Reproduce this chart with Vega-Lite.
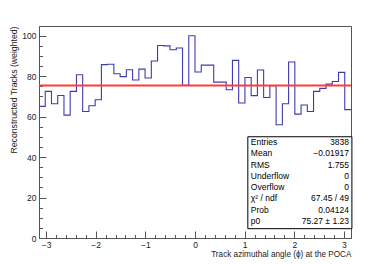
{
  "$schema": "https://vega.github.io/schema/vega-lite/v6.json",
  "width": 312,
  "height": 212,
  "autosize": "none",
  "padding": {"left": 39, "top": 26, "right": 39, "bottom": 27},
  "background": "white",
  "config": {
    "view": {"stroke": "#555555", "strokeWidth": 1},
    "font": "Liberation Sans",
    "axis": {"grid": false, "labelFont": "Liberation Sans", "titleFont": "Liberation Sans", "labelColor": "#222222", "titleColor": "#222222", "tickColor": "#555555", "domainColor": "#555555", "titleFontWeight": "normal"}
  },
  "datasets": {
    "hist": [
      {"phi": -3.1416, "tracks": 65.0},
      {"phi": -3.0159, "tracks": 72.4},
      {"phi": -2.8903, "tracks": 66.3},
      {"phi": -2.7646, "tracks": 70.4},
      {"phi": -2.6389, "tracks": 60.7},
      {"phi": -2.5133, "tracks": 72.4},
      {"phi": -2.3876, "tracks": 80.6},
      {"phi": -2.2619, "tracks": 62.5},
      {"phi": -2.1363, "tracks": 65.3},
      {"phi": -2.0106, "tracks": 68.3},
      {"phi": -1.8850, "tracks": 85.6},
      {"phi": -1.7593, "tracks": 85.8},
      {"phi": -1.6336, "tracks": 81.1},
      {"phi": -1.5080, "tracks": 79.7},
      {"phi": -1.3823, "tracks": 83.1},
      {"phi": -1.2566, "tracks": 78.0},
      {"phi": -1.1310, "tracks": 83.4},
      {"phi": -1.0053, "tracks": 79.0},
      {"phi": -0.8796, "tracks": 87.4},
      {"phi": -0.7540, "tracks": 95.1},
      {"phi": -0.6283, "tracks": 94.9},
      {"phi": -0.5027, "tracks": 93.0},
      {"phi": -0.3770, "tracks": 93.8},
      {"phi": -0.2513, "tracks": 75.4},
      {"phi": -0.1257, "tracks": 99.9},
      {"phi": 0.0000, "tracks": 82.0},
      {"phi": 0.1257, "tracks": 85.4},
      {"phi": 0.2513, "tracks": 85.4},
      {"phi": 0.3770, "tracks": 77.0},
      {"phi": 0.5027, "tracks": 77.0},
      {"phi": 0.6283, "tracks": 73.2},
      {"phi": 0.7540, "tracks": 87.7},
      {"phi": 0.8796, "tracks": 66.7},
      {"phi": 1.0053, "tracks": 79.3},
      {"phi": 1.1310, "tracks": 70.3},
      {"phi": 1.2566, "tracks": 83.0},
      {"phi": 1.3823, "tracks": 69.4},
      {"phi": 1.5080, "tracks": 75.2},
      {"phi": 1.6336, "tracks": 55.9},
      {"phi": 1.7593, "tracks": 66.3},
      {"phi": 1.8850, "tracks": 86.9},
      {"phi": 2.0106, "tracks": 61.2},
      {"phi": 2.1363, "tracks": 65.7},
      {"phi": 2.2619, "tracks": 62.5},
      {"phi": 2.3876, "tracks": 72.4},
      {"phi": 2.5133, "tracks": 73.9},
      {"phi": 2.6389, "tracks": 76.0},
      {"phi": 2.7646, "tracks": 77.3},
      {"phi": 2.8903, "tracks": 81.8},
      {"phi": 3.0159, "tracks": 63.4},
      {"phi": 3.1416, "tracks": 63.4}
    ],
    "stats": [
      {"row": 0, "label": "Entries", "value": "3838"},
      {"row": 1, "label": "Mean", "value": "−0.01917"},
      {"row": 2, "label": "RMS", "value": "1.755"},
      {"row": 3, "label": "Underflow", "value": "0"},
      {"row": 4, "label": "Overflow", "value": "0"},
      {"row": 5, "label": "χ² / ndf", "value": "67.45 / 49"},
      {"row": 6, "label": "Prob", "value": "0.04124"},
      {"row": 7, "label": "p0", "value": "75.27 ± 1.23"}
    ],
    "fit": [
      {"p0": 75.27}
    ]
  },
  "layer": [
    {
      "resolve": {"axis": {"x": "independent", "y": "independent"}},
      "layer": [
        {
          "data": {"name": "hist"},
          "mark": {"type": "line", "interpolate": "step-after", "color": "#3c3cae", "strokeWidth": 1.1},
          "encoding": {
            "x": {
              "field": "phi", "type": "quantitative",
              "scale": {"domain": [-3.1416, 3.1416], "nice": false, "zero": false},
              "axis": {"orient": "bottom", "values": [-3, -2, -1, 0, 1, 2, 3], "tickSize": -7, "labelPadding": 9, "labelFontSize": 8.5, "labelFlush": false, "title": "Track azimuthal angle (ϕ) at the POCA", "titleAnchor": "end", "titleFontSize": 8.2, "titlePadding": 2}
            },
            "y": {
              "field": "tracks", "type": "quantitative",
              "scale": {"domain": [0, 104.7], "nice": false, "zero": true},
              "axis": {"orient": "left", "values": [0, 20, 40, 60, 80, 100], "tickSize": -7, "labelPadding": 10, "labelFontSize": 8.5, "title": "Reconstructed Tracks (weighted)", "titleAnchor": "end", "titleAngle": -90, "titleAlign": "right", "titleY": 0, "titleFontSize": 8.7, "titlePadding": 3}
            }
          }
        },
        {
          "data": {"name": "fit"},
          "mark": {"type": "rule", "color": "#ff3b3b", "strokeWidth": 2},
          "encoding": {
            "y": {"field": "p0", "type": "quantitative", "axis": {"orient": "left", "values": [5, 10, 15, 25, 30, 35, 45, 50, 55, 65, 70, 75, 85, 90, 95], "tickSize": -3.5, "labels": false, "domain": false, "title": null}}
          }
        },
        {
          "data": {"name": "fit"},
          "mark": {"type": "rect", "fill": "white", "stroke": "black", "strokeWidth": 1},
          "encoding": {
            "x": {"datum": 1.064, "axis": {"orient": "bottom", "values": [-2.8, -2.6, -2.4, -2.2, -1.8, -1.6, -1.4, -1.2, -0.8, -0.6, -0.4, -0.2, 0.2, 0.4, 0.6, 0.8, 1.2, 1.4, 1.6, 1.8, 2.2, 2.4, 2.6, 2.8], "tickSize": -3.5, "labels": false, "domain": false, "title": null}},
            "x2": {"datum": 3.16},
            "y": {"datum": 4.6, "axis": null},
            "y2": {"datum": 50.0}
          }
        }
      ]
    },
    {
      "data": {"name": "stats"},
      "encoding": {
        "y": {"field": "row", "type": "quantitative", "scale": {"domain": [0, 7], "range": [116, 195], "nice": false, "zero": false}, "axis": null}
      },
      "layer": [
        {
          "mark": {"type": "text", "align": "left", "baseline": "middle", "fontSize": 8.5, "color": "black"},
          "encoding": {"x": {"datum": 1.125, "axis": null}, "text": {"field": "label"}}
        },
        {
          "mark": {"type": "text", "align": "right", "baseline": "middle", "fontSize": 8.5, "color": "black"},
          "encoding": {"x": {"datum": 3.1, "axis": null}, "text": {"field": "value"}}
        }
      ]
    }
  ],
  "resolve": {"scale": {"y": "independent"}, "axis": {"y": "independent"}}
}
